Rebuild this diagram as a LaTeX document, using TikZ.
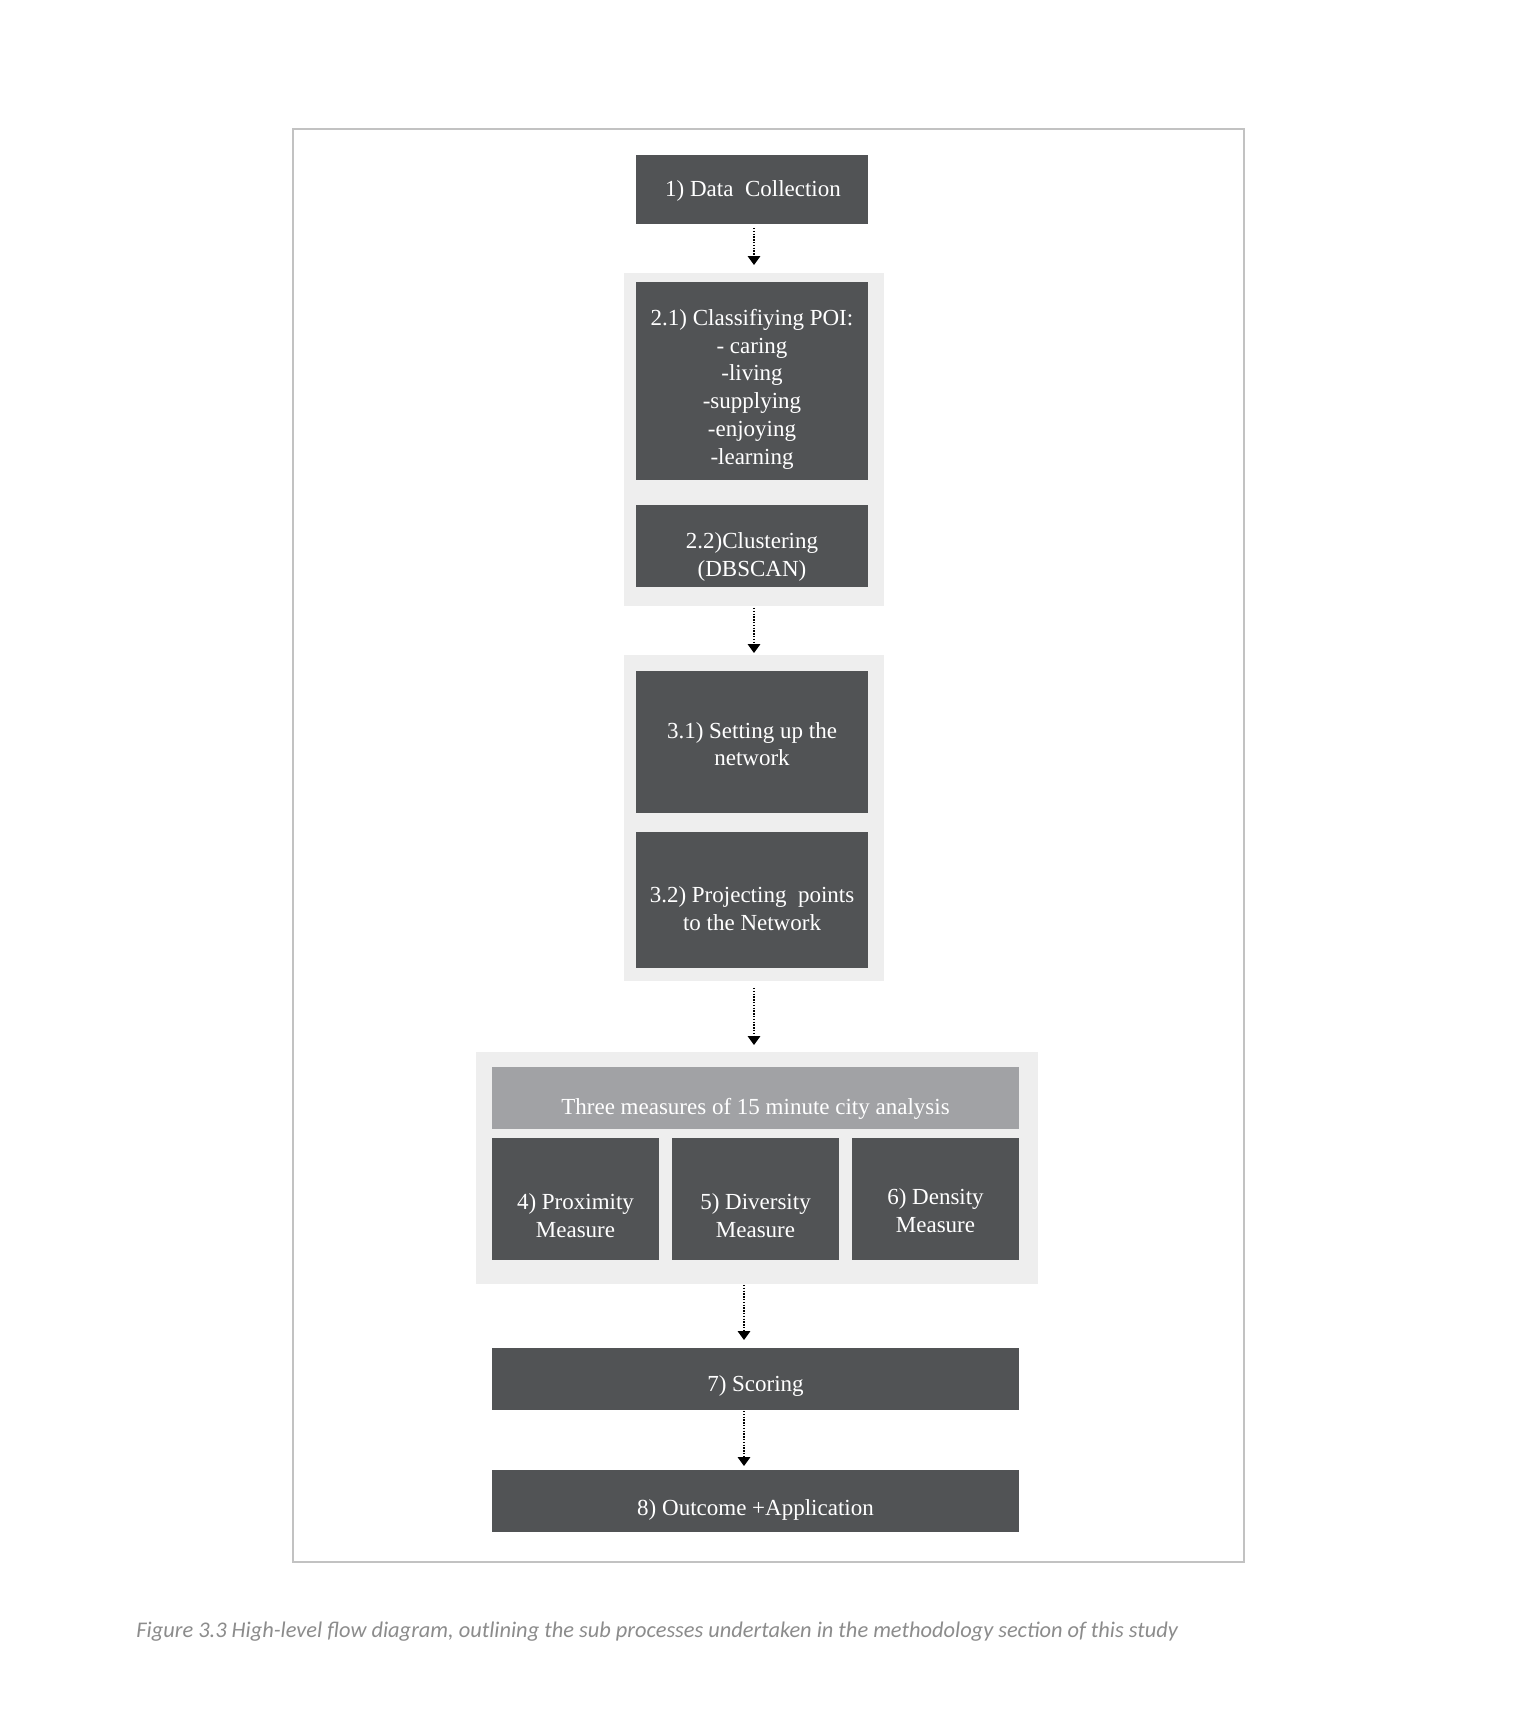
\documentclass[tikz,border=0pt]{standalone}
\usepackage{fontspec}
\setmainfont{Liberation Serif}
\newfontfamily\capfont{Carlito}
\usetikzlibrary{arrows.meta,calc}
\definecolor{boxdark}{HTML}{515355}
\definecolor{grpbg}{HTML}{EEEEEE}
\definecolor{hdrgray}{HTML}{A1A2A5}
\definecolor{framegray}{HTML}{C2C2C2}
\definecolor{capgray}{HTML}{8C8C8C}
\begin{document}
\begin{tikzpicture}[x=0.5pt,y=-0.5pt,
  box/.style={fill=boxdark, draw=none, inner sep=0pt, outer sep=0pt},
  grp/.style={fill=grpbg, draw=none, inner sep=0pt, outer sep=0pt},
  hdr/.style={fill=hdrgray, draw=none, inner sep=0pt, outer sep=0pt},
  lbl/.style={text=white, font=\fontsize{11.5}{13.85}\selectfont, align=center, inner sep=0pt},
  flow/.style={draw=black, line width=0.7pt, dash pattern=on 0.7pt off 0.7pt,
    -{Triangle[width=6.2pt,length=4.4pt]}}]
\useasboundingbox (0,0) rectangle (1539,1713);
\fill[white] (0,0) rectangle (1539,1713);
% frame
\node[draw=framegray, line width=1pt, inner sep=0pt, minimum width=475.75pt, minimum height=716.5pt] (frame) at (768.25,845.5) {};
% groups
\node[grp, minimum width=130pt, minimum height=166.5pt] (g2) at (754,439.5) {};
\node[grp, minimum width=130pt, minimum height=163pt] (g3) at (754,818) {};
\node[grp, minimum width=281pt, minimum height=116pt] (g4) at (757,1168) {};
% boxes
\node[box, minimum width=116pt, minimum height=34.5pt] (b1) at (752,189.5) {};
\node[box, minimum width=116pt, minimum height=99pt] (b21) at (752,381) {};
\node[box, minimum width=116pt, minimum height=41pt] (b22) at (752,546) {};
\node[box, minimum width=116pt, minimum height=71pt] (b31) at (752,742) {};
\node[box, minimum width=116pt, minimum height=68pt] (b32) at (752,900) {};
\node[hdr, minimum width=263.5pt, minimum height=31pt] (hd) at (755.5,1098) {};
\node[box, minimum width=83.5pt, minimum height=61pt] (b4) at (575.5,1199) {};
\node[box, minimum width=83.5pt, minimum height=61pt] (b5) at (755.5,1199) {};
\node[box, minimum width=83.5pt, minimum height=61pt] (b6) at (935.5,1199) {};
\node[box, minimum width=263.5pt, minimum height=31pt] (b7) at (755.5,1379) {};
\node[box, minimum width=263.5pt, minimum height=31pt] (b8) at (755.5,1501) {};
% labels
\node[lbl] (t1) at ($(b1.center)+(1,1.2)$) {1) Data~ Collection};
\node[lbl] (t21) at ($(b21.center)+(0,8.2)$) {2.1) Classifiying POI:\\- caring\\-living\\-supplying\\-enjoying\\-learning};
\node[lbl] (t22) at ($(b22.center)+(0,11.3)$) {2.2)Clustering\\(DBSCAN)};
\node[lbl] (t31) at ($(b31.center)+(0,2.2)$) {3.1) Setting up the\\network};
\node[lbl] (t32) at ($(b32.center)+(0,8.8)$) {3.2) Projecting~ points\\to the Network};
\node[lbl] (th) at ($(hd.center)+(0,11)$) {Three measures of 15 minute city analysis};
\node[lbl] (t4) at ($(b4.center)+(0,16.9)$) {4) Proximity\\Measure};
\node[lbl] (t5) at ($(b5.center)+(0,16.9)$) {5) Diversity\\Measure};
\node[lbl] (t6) at ($(b6.center)+(0,11.5)$) {6) Density\\Measure};
\node[lbl] (t7) at ($(b7.center)+(0,7.2)$) {7) Scoring};
\node[lbl] (t8) at ($(b8.center)+(0,8.6)$) {8) Outcome +Application};
% connectors
\coordinate (ax1) at (754,0);
\coordinate (ax2) at (744,0);
\draw[flow, shorten <=2pt, shorten >=4pt] (b1.south -| ax1) -- (g2.north -| ax1);
\draw[flow, shorten <=1pt, shorten >=1pt] (g2.south -| ax1) -- (g3.north -| ax1);
\draw[flow, shorten <=3.5pt, shorten >=3.5pt] (g3.south -| ax1) -- (g4.north -| ax1);
\draw[flow, shorten <=0.5pt, shorten >=4pt] (g4.south -| ax2) -- (b7.north -| ax2);
\draw[flow, shorten <=0.5pt, shorten >=2pt] (b7.south -| ax2) -- (b8.north -| ax2);
% caption
\node[anchor=west, inner sep=0pt, text=capgray, font=\capfont\itshape\fontsize{11.2}{13}\selectfont] (cap) at (136,1632) {Figure 3.3 High-level flow diagram, outlining the sub processes undertaken in the methodology section of this study};
\end{tikzpicture}
\end{document}
